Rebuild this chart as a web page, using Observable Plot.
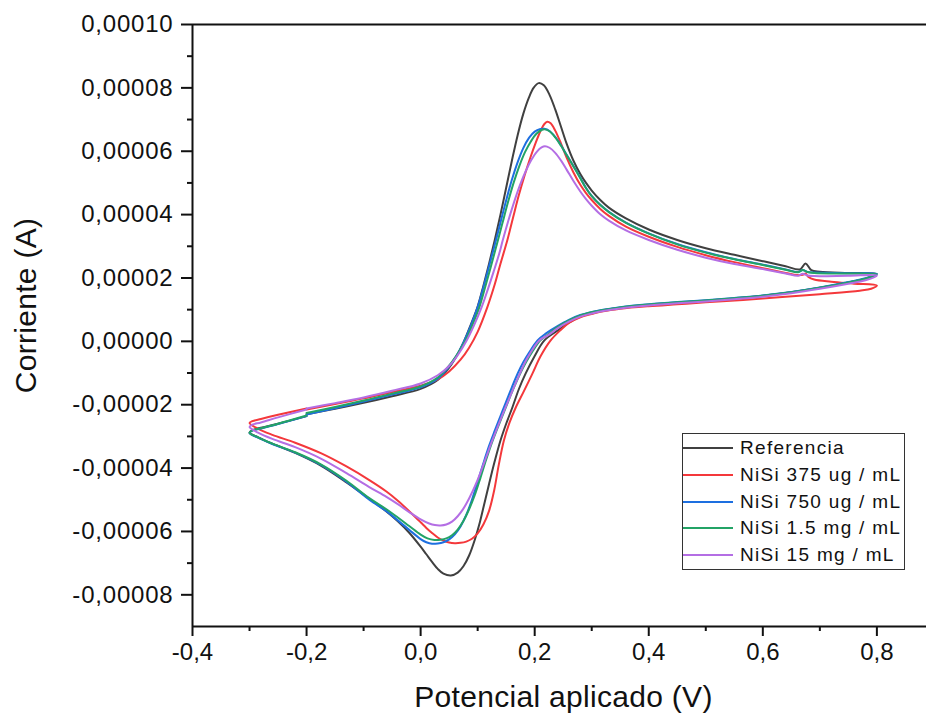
<!DOCTYPE html>
<html>
<head>
<meta charset="utf-8">
<script src="https://cdn.jsdelivr.net/npm/d3@7"></script>
<script src="https://cdn.jsdelivr.net/npm/@observablehq/plot@0.6"></script>
<style>
  body { margin: 0; background: #fff; }
  #wrap { position: relative; width: 926px; height: 719px; font-family: "Liberation Sans", Arial, sans-serif; }
  #wrap svg g[aria-label="y-axis tick label"] text { letter-spacing: 0.8px; }
  #wrap svg g[aria-label="text"] text { letter-spacing: 0.3px; }
  .legend { position: absolute; left: 682px; top: 433px; width: 221px; height: 135px; border: 1px solid #333; background: #fff; }
  .row { position: absolute; left: 0; height: 26px; display: flex; align-items: center; font-size: 19px; letter-spacing: 1.3px; color: #111; white-space: nowrap; }
  .swatch { display: inline-block; width: 50px; height: 2px; margin-right: 7px; }
</style>
</head>
<body>
<div id="wrap"></div>
<script>
// Series names and colours
const series = ["Referencia", "NiSi 375 ug / mL", "NiSi 750 ug / mL", "NiSi 1.5 mg / mL", "NiSi 15 mg / mL"];
const colors = ["#404040", "#f4383b", "#1d6fe0", "#23a366", "#b46ee4"];

// Axis ticks
const xTicks = [-0.4, -0.2, 0.0, 0.2, 0.4, 0.6, 0.8];
const xMinor = [-0.3, -0.1, 0.1, 0.3, 0.5, 0.7];
const yTicks = [-0.00008, -0.00006, -0.00004, -0.00002, 0, 0.00002, 0.00004, 0.00006, 0.00008, 0.0001];
const yMinor = [-0.00007, -0.00005, -0.00003, -0.00001, 0.00001, 0.00003, 0.00005, 0.00007, 0.00009];
const xDomain = [-0.4, 0.887];
const yDomain = [-0.00009, 0.0001];

// Values: [potential (V), current (µA)], in scan order
const referencia = [
  [-0.2,-23.0],[-0.15,-21.3],[-0.1,-19.4],[-0.05,-17.3],[0.0,-15.0],[0.03,-12.2],[0.047,-9.0],[0.062,-5.0],[0.076,0.0],[0.088,5.3],[0.1,11],[0.11,17.5],[0.12,24.5],[0.13,32],[0.14,40],[0.15,48.5],[0.16,57],[0.17,65],[0.18,71.8],[0.19,77],[0.198,80],[0.207,81.5],[0.216,80.8],[0.226,77.8],[0.236,73.2],[0.246,67.8],[0.256,62.4],[0.268,57],[0.28,52.8],[0.29,50],[0.3,47.6],[0.315,44.6],[0.33,42.2],[0.36,38.8],[0.4,35.3],[0.45,32],[0.5,29.4],[0.55,27.3],[0.6,25.3],[0.64,23.7],[0.665,22.7],[0.675,24.6],[0.685,22.5],[0.7,22.0],[0.75,21.6],[0.8,21.3],
  [0.78,19.8],[0.75,18.6],[0.7,16.9],[0.65,15.5],[0.6,14.4],[0.55,13.5],[0.5,12.8],[0.45,12.2],[0.4,11.5],[0.35,10.6],[0.32,9.8],[0.3,9.0],[0.28,7.8],[0.26,5.9],[0.24,3.4],[0.217,0.3],[0.2,-4.6],[0.184,-10.2],[0.172,-15.2],[0.161,-20.8],[0.15,-26],[0.14,-31.3],[0.13,-37.8],[0.12,-45],[0.112,-51],[0.104,-57],[0.095,-62.6],[0.085,-67.6],[0.075,-71],[0.065,-73],[0.053,-73.9],[0.04,-73.3],[0.03,-71.8],[0.02,-69.6],[0.01,-67.2],[0.0,-64.8],[-0.02,-60.4],[-0.04,-56.8],[-0.06,-53.7],[-0.09,-49.7],[-0.13,-44.5],[-0.175,-39.2],[-0.22,-35.2],[-0.26,-32.3],[-0.285,-30.3],[-0.3,-28.8],
  [-0.295,-28.0],[-0.28,-27.3],[-0.25,-26],[-0.2,-23.6]
];
const nisi375 = [
  [-0.2,-21.5],[-0.15,-19.8],[-0.1,-18],[-0.05,-16],[0.0,-14],[0.03,-12],[0.05,-9.5],[0.07,-5.8],[0.085,-2],[0.1,3],[0.117,10.8],[0.13,18],[0.14,24.5],[0.152,31.9],[0.162,39],[0.172,46],[0.182,52.2],[0.192,57.8],[0.202,62.8],[0.211,66.7],[0.217,68.6],[0.222,69.3],[0.228,68.8],[0.236,66.5],[0.246,62.5],[0.256,58],[0.268,53.3],[0.28,49.4],[0.29,46.8],[0.3,44.6],[0.315,41.8],[0.33,39.6],[0.36,36.2],[0.4,33],[0.45,29.8],[0.5,27.2],[0.55,25],[0.6,23.1],[0.64,21.6],[0.66,20.9],[0.67,21.0],[0.675,21.4],[0.68,20.3],[0.69,19.5],[0.72,18.8],[0.76,18.2],[0.8,17.6],
  [0.79,16.6],[0.77,16.0],[0.7,14.9],[0.6,13.5],[0.5,12.3],[0.45,11.7],[0.4,11.1],[0.35,10.3],[0.32,9.5],[0.3,8.6],[0.28,7.6],[0.26,5.8],[0.245,3.5],[0.228,0.3],[0.21,-4.8],[0.196,-10.2],[0.18,-16.1],[0.167,-20.8],[0.156,-25.6],[0.146,-31.3],[0.137,-39],[0.129,-47],[0.12,-53.5],[0.11,-57.8],[0.1,-60.6],[0.09,-62.3],[0.08,-63.2],[0.07,-63.6],[0.06,-63.7],[0.05,-63.5],[0.04,-62.9],[0.03,-61.9],[0.02,-60.5],[0.01,-58.9],[0.0,-57.1],[-0.02,-53.6],[-0.04,-50.3],[-0.06,-47.4],[-0.09,-43.8],[-0.13,-39.5],[-0.175,-35.3],[-0.22,-32],[-0.26,-29.5],[-0.285,-27.6],[-0.3,-25.8],
  [-0.295,-25.2],[-0.28,-24.5],[-0.25,-23.2],[-0.2,-21.2]
];
const nisi750 = [
  [-0.2,-23.1],[-0.15,-21.1],[-0.1,-19],[-0.05,-16.8],[0.0,-14.5],[0.03,-11.8],[0.047,-8.6],[0.062,-4.8],[0.076,0],[0.088,5],[0.1,10.8],[0.11,17],[0.12,23.7],[0.13,30.5],[0.14,37.5],[0.15,44.5],[0.16,51],[0.17,56.5],[0.18,61],[0.19,64.2],[0.2,66.2],[0.21,67],[0.217,67.1],[0.226,66.4],[0.236,64.5],[0.246,61.9],[0.256,58.9],[0.268,55.3],[0.28,51.6],[0.29,48.4],[0.3,45.9],[0.315,43.1],[0.33,40.9],[0.36,37.5],[0.4,34.1],[0.45,30.7],[0.5,28.1],[0.55,26],[0.6,24.2],[0.64,22.7],[0.662,21.9],[0.67,22.5],[0.678,21.9],[0.69,21.7],[0.75,21.5],[0.8,21.3],
  [0.78,19.9],[0.75,18.7],[0.7,17],[0.65,15.6],[0.6,14.5],[0.55,13.7],[0.5,13],[0.45,12.4],[0.4,11.7],[0.35,10.8],[0.32,10],[0.3,9.3],[0.28,8.3],[0.26,6.8],[0.24,4.8],[0.22,2.5],[0.205,0.3],[0.19,-3.6],[0.18,-6.6],[0.17,-10.2],[0.16,-14.5],[0.15,-19],[0.14,-23.6],[0.13,-28.2],[0.12,-33],[0.11,-38.5],[0.1,-44.3],[0.09,-50],[0.08,-54.8],[0.07,-58.4],[0.06,-60.9],[0.05,-62.5],[0.04,-63.4],[0.03,-63.8],[0.02,-63.9],[0.01,-63.4],[0.0,-62.4],[-0.02,-59.5],[-0.04,-56.5],[-0.06,-53.6],[-0.09,-50],[-0.13,-44.3],[-0.175,-39],[-0.22,-35.1],[-0.26,-32.4],[-0.285,-30.4],[-0.3,-29],
  [-0.295,-28.2],[-0.28,-27.5],[-0.25,-26.1],[-0.2,-23.6]
];
const nisi1_5 = [
  [-0.2,-22.6],[-0.15,-20.7],[-0.1,-18.7],[-0.05,-16.5],[0.0,-14.2],[0.03,-11.4],[0.047,-8.3],[0.062,-4.7],[0.078,0],[0.09,4.8],[0.103,10.8],[0.113,17],[0.123,23.5],[0.133,30.2],[0.143,37],[0.153,43.8],[0.163,50],[0.173,55.3],[0.183,59.7],[0.193,63],[0.203,65.5],[0.212,66.7],[0.218,66.9],[0.226,66.3],[0.236,64.4],[0.246,61.8],[0.256,58.8],[0.268,55.2],[0.28,51.5],[0.29,48.3],[0.3,45.8],[0.315,43],[0.33,40.8],[0.36,37.4],[0.4,34],[0.45,30.6],[0.5,28],[0.55,25.9],[0.6,24.1],[0.64,22.6],[0.662,21.8],[0.67,22.5],[0.678,21.9],[0.69,21.6],[0.75,21.4],[0.8,21.2],
  [0.78,19.8],[0.75,18.6],[0.7,16.9],[0.65,15.5],[0.6,14.4],[0.55,13.6],[0.5,12.9],[0.45,12.3],[0.4,11.6],[0.35,10.7],[0.32,9.9],[0.3,9.2],[0.28,8.2],[0.26,6.6],[0.24,4.5],[0.225,2.4],[0.21,0.3],[0.195,-3.5],[0.185,-6.5],[0.175,-10],[0.165,-14],[0.155,-18.3],[0.145,-22.8],[0.135,-27.3],[0.125,-32],[0.115,-37.3],[0.105,-43],[0.095,-48.5],[0.085,-53],[0.075,-56.7],[0.065,-59.4],[0.055,-61.2],[0.045,-62.2],[0.035,-62.6],[0.024,-62.7],[0.012,-62.2],[0.0,-61],[-0.02,-58.3],[-0.04,-55.6],[-0.06,-53],[-0.09,-49.5],[-0.13,-44],[-0.175,-38.8],[-0.22,-35],[-0.26,-32.3],[-0.285,-30.3],[-0.3,-28.9],
  [-0.295,-28.1],[-0.28,-27.4],[-0.25,-26],[-0.2,-23.4]
];
const nisi15 = [
  [-0.2,-21.2],[-0.15,-19.5],[-0.1,-17.7],[-0.05,-15.6],[0.0,-13.3],[0.03,-10.7],[0.05,-7.8],[0.065,-4.4],[0.08,0],[0.093,4.8],[0.107,10.8],[0.118,16.5],[0.128,22],[0.138,27.8],[0.144,31.9],[0.154,38.2],[0.164,44],[0.174,49.2],[0.184,53.6],[0.194,57.2],[0.204,59.9],[0.212,61.2],[0.218,61.6],[0.226,61.1],[0.236,59.5],[0.246,57.1],[0.256,54.2],[0.268,50.6],[0.28,47.3],[0.29,44.9],[0.3,42.8],[0.315,40.1],[0.33,38.1],[0.36,35],[0.4,32],[0.45,28.9],[0.5,26.4],[0.55,24.4],[0.6,22.8],[0.64,21.4],[0.662,20.7],[0.67,21.3],[0.678,20.8],[0.69,20.6],[0.75,20.7],[0.8,20.8],
  [0.78,19.3],[0.75,18.2],[0.7,16.6],[0.65,15.2],[0.6,14.1],[0.55,13.3],[0.5,12.6],[0.45,12],[0.4,11.3],[0.35,10.4],[0.32,9.6],[0.3,8.8],[0.28,7.8],[0.26,6.2],[0.24,4.1],[0.225,2.1],[0.208,0.3],[0.192,-3.8],[0.182,-7],[0.174,-10.2],[0.164,-14.3],[0.154,-18.6],[0.145,-22.5],[0.135,-27],[0.125,-31.6],[0.115,-36.5],[0.105,-41.4],[0.095,-45.8],[0.085,-49.6],[0.075,-52.8],[0.065,-55.2],[0.055,-56.9],[0.045,-57.8],[0.035,-58.1],[0.025,-58],[0.015,-57.5],[0.0,-56.2],[-0.02,-53.9],[-0.04,-51.4],[-0.06,-49.1],[-0.09,-46],[-0.13,-41.6],[-0.175,-37],[-0.22,-33.4],[-0.26,-30.8],[-0.285,-28.8],[-0.3,-27],
  [-0.295,-26.3],[-0.28,-25.6],[-0.25,-24],[-0.2,-21.5]
];

const curves = [referencia, nisi375, nisi750, nisi1_5, nisi15];
const rows = curves.flatMap((pts, i) => pts.map(([v, ua], k) => ({serie: series[i], V: v, I: ua * 1e-6, k})));

const fmtY = d => (Math.abs(d) < 1e-12 ? 0 : d).toFixed(5).replace(".", ",");
const fmtX = d => (Math.abs(d) < 1e-12 ? 0 : d).toFixed(1).replace(".", ",");
const axisColor = "#111";

const chart = Plot.plot({
  width: 926,
  height: 719,
  marginLeft: 192,
  marginRight: 0,
  marginTop: 24,
  marginBottom: 93,
  style: {fontFamily: "'Liberation Sans', Arial, sans-serif", fontSize: "24px", color: axisColor, background: "#fff", overflow: "visible"},
  x: {domain: xDomain},
  y: {domain: yDomain},
  color: {domain: series, range: colors},
  marks: [
    Plot.line(rows, {x: "V", y: "I", z: "serie", stroke: "serie", strokeWidth: 2, curve: "catmull-rom"}),
    Plot.ruleX([xDomain[0]], {stroke: axisColor, strokeWidth: 2}),
    Plot.ruleY(yDomain, {stroke: axisColor, strokeWidth: 2}),
    Plot.axisX({ticks: xTicks, tickSize: 10, tickPadding: 6, tickFormat: fmtX, strokeWidth: 2, label: null}),
    Plot.axisX({ticks: xMinor, tickSize: 5, tickFormat: () => "", strokeWidth: 2, label: null}),
    Plot.axisY({ticks: yTicks, tickSize: 11, tickPadding: 8, tickFormat: fmtY, strokeWidth: 2, label: null}),
    Plot.axisY({ticks: yMinor, tickSize: 5, tickFormat: () => "", strokeWidth: 2, label: null}),
    Plot.text(["Potencial aplicado (V)"], {frameAnchor: "bottom", dx: 4, dy: 80, fontSize: 30, fill: axisColor}),
    Plot.text(["Corriente (A)"], {frameAnchor: "left", textAnchor: "middle", rotate: -90, dx: -166, dy: -20, fontSize: 30, fill: axisColor})
  ]
});

const wrap = document.getElementById("wrap");
wrap.appendChild(chart);

// Legend inside the plot area
const legend = document.createElement("div");
legend.className = "legend";
series.forEach((name, i) => {
  const row = document.createElement("div");
  row.className = "row";
  row.style.top = (1.3 + 26.7 * i) + "px";
  const sw = document.createElement("span");
  sw.className = "swatch";
  sw.style.background = colors[i];
  const tx = document.createElement("span");
  tx.textContent = name;
  row.appendChild(sw);
  row.appendChild(tx);
  legend.appendChild(row);
});
wrap.appendChild(legend);
</script>
</body>
</html>
